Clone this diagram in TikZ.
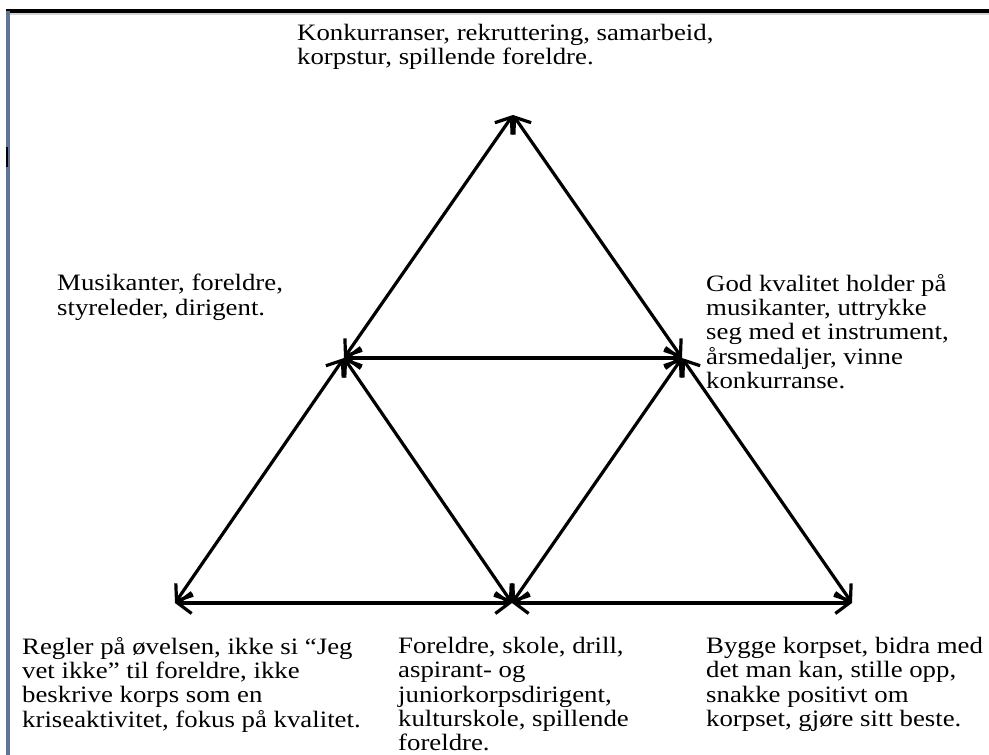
\documentclass[tikz,border=0pt]{standalone}
\usepackage{fontspec}
\setmainfont{Liberation Serif}[FakeStretch=1.14]
\usetikzlibrary{arrows.meta}
\definecolor{frameblue}{RGB}{96,116,150}

\begin{document}
\begin{tikzpicture}[x=1pt,y=-1pt,
  lbl/.style={anchor=north west, inner sep=0pt, align=left,
              font=\fontsize{23.5}{24.3}\selectfont},
  link/.style={line width=3.2pt, line cap=round,
               {Straight Barb[length=14pt,width=21pt,line width=3.2pt]}-{Straight Barb[length=14pt,width=21pt,line width=3.2pt]}}]
\useasboundingbox (0,0) rectangle (989,755);

% page frame
\draw[gray!35, line width=2pt] (6,14) -- (989,14);
\draw[black, line width=3.5pt] (6,11) -- (989,11);
\draw[frameblue, line width=4pt] (8,11) -- (8,755);
\draw[black, line width=2pt] (7,147) -- (7,167);

% triangle corners
\coordinate (T)  at (513,115);
\coordinate (ML) at (344,358);
\coordinate (MR) at (682,358);
\coordinate (BL) at (175,603);
\coordinate (BM) at (512,603);
\coordinate (BR) at (852,603);

% connections
\draw[link] (T) -- (ML);
\draw[link] (T) -- (MR);
\draw[link] (ML) -- (MR);
\draw[link] (ML) -- (BL);
\draw[link] (ML) -- (BM);
\draw[link] (MR) -- (BM);
\draw[link] (MR) -- (BR);
\draw[link] (BL) -- (BM);
\draw[link] (BM) -- (BR);

% texts
\node[lbl] (ttop) at (297,24) {Konkurranser, rekruttering, samarbeid,\\korpstur, spillende foreldre.};
\node[lbl] (tml) at (57,274) {Musikanter, foreldre,\\styreleder, dirigent.};
\node[lbl] (tmr) at (706,274) {God kvalitet holder på\\musikanter, uttrykke\\seg med et instrument,\\årsmedaljer, vinne\\konkurranse.};
\node[lbl] (tbl) at (22,637) {Regler på øvelsen, ikke si “Jeg\\vet ikke” til foreldre, ikke\\beskrive korps som en\\kriseaktivitet, fokus på kvalitet.};
\node[lbl] (tbm) at (398,637) {Foreldre, skole, drill,\\aspirant- og\\juniorkorpsdirigent,\\kulturskole, spillende\\foreldre.};
\node[lbl] (tbr) at (706,637) {Bygge korpset, bidra med\\det man kan, stille opp,\\snakke positivt om\\korpset, gjøre sitt beste.};
\end{tikzpicture}
\end{document}
